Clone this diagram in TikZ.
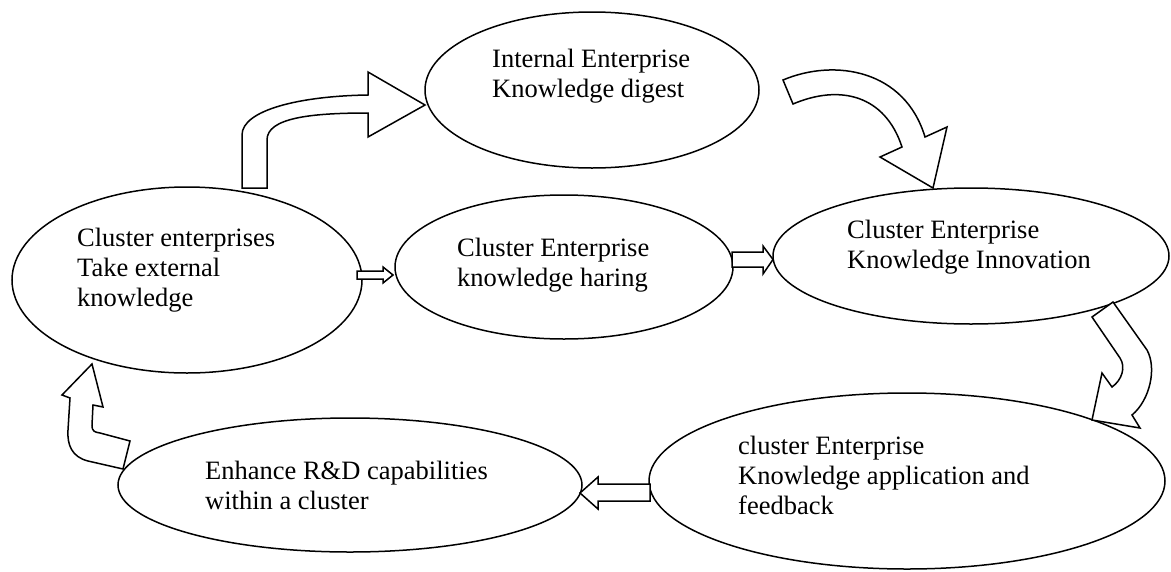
\documentclass[tikz,border=0pt]{standalone}
\usepackage{fontspec}
\setmainfont{Liberation Serif}
\usetikzlibrary{shapes.geometric}
\tikzset{
  bubble/.style={draw, ellipse, line width=1.5pt, inner sep=0pt},
  label/.style={anchor=west, align=left, inner sep=0pt, font=\fontsize{26.5}{30}\selectfont},
  blockarrow/.style={draw, fill=white, line width=1.5pt, line join=miter},
}
\begin{document}
\begin{tikzpicture}[x=1pt,y=-1pt]
\useasboundingbox (0,0) rectangle (1171,571);
% ellipses
\node[bubble, minimum width=334pt, minimum height=156pt] (int) at (592,90) {};
\node[bubble, minimum width=350pt, minimum height=186pt] (ext) at (187,280) {};
\node[bubble, minimum width=338pt, minimum height=144pt] (shr) at (564,267) {};
\node[bubble, minimum width=396pt, minimum height=136pt] (inn) at (971,256) {};
\node[bubble, minimum width=516pt, minimum height=176pt] (app) at (907,481) {};
\node[bubble, minimum width=464pt, minimum height=134pt] (rd) at (350,485) {};
% texts
\node[label] (tint) at (492,76) {Internal Enterprise\\Knowledge digest};
\node[label] (text) at (77,270) {Cluster enterprises\\Take external\\knowledge};
\node[label] (tshr) at (457,265) {Cluster Enterprise\\knowledge haring};
\node[label] (tinn) at (847,247) {Cluster Enterprise\\Knowledge Innovation};
\node[label] (tapp) at (738,475) {cluster Enterprise\\Knowledge application and\\feedback};
\node[label] (trd) at (205,485) {Enhance R\&D capabilities\\within a cluster};
% straight block arrows
\draw[blockarrow] (357,271) -- (383,271) -- (383,267) -- (393,275) -- (383,283) -- (383,279) -- (357,279) -- cycle;
\draw[blockarrow] (732,252) -- (763,252) -- (763,246) -- (773,259.5) -- (763,274) -- (763,267) -- (732,267) -- cycle;
\draw[blockarrow] (650,484) -- (598,484) -- (598,477) -- (580,493) -- (598,509) -- (598,501) -- (650,501) -- cycle;
% curved block arrows
\draw[blockarrow] (242,188) -- (242,135) .. controls (242,110) and (300,96) .. (368,95)
  -- (368,72) -- (425,105) -- (368,137) -- (368,113)
  .. controls (310,113) and (267,118) .. (267,140) -- (267,188) -- cycle;
\draw[blockarrow] (793,104) .. controls (840,84) and (885,95) .. (902,147)
  -- (880,157) -- (933,188) -- (947,127) -- (925,137)
  .. controls (905,70) and (835,58) .. (783,80) -- cycle;
\draw[blockarrow] (1113,302) -- (1092,317) -- (1120,358)
  .. controls (1126,367) and (1122,380) .. (1112,387)
  -- (1102,373) -- (1092,420) -- (1140,428) -- (1132,415)
  .. controls (1150,400) and (1157,368) .. (1147,350) -- cycle;
\draw[blockarrow] (92,364) -- (103,407) -- (93,405) -- (92,425)
  .. controls (92,432) and (95,432) .. (100,433) -- (130,441) -- (123,469) -- (88,461)
  .. controls (72,457) and (67,445) .. (68,430) -- (70,398) -- (62,395) -- cycle;
\end{tikzpicture}
\end{document}
